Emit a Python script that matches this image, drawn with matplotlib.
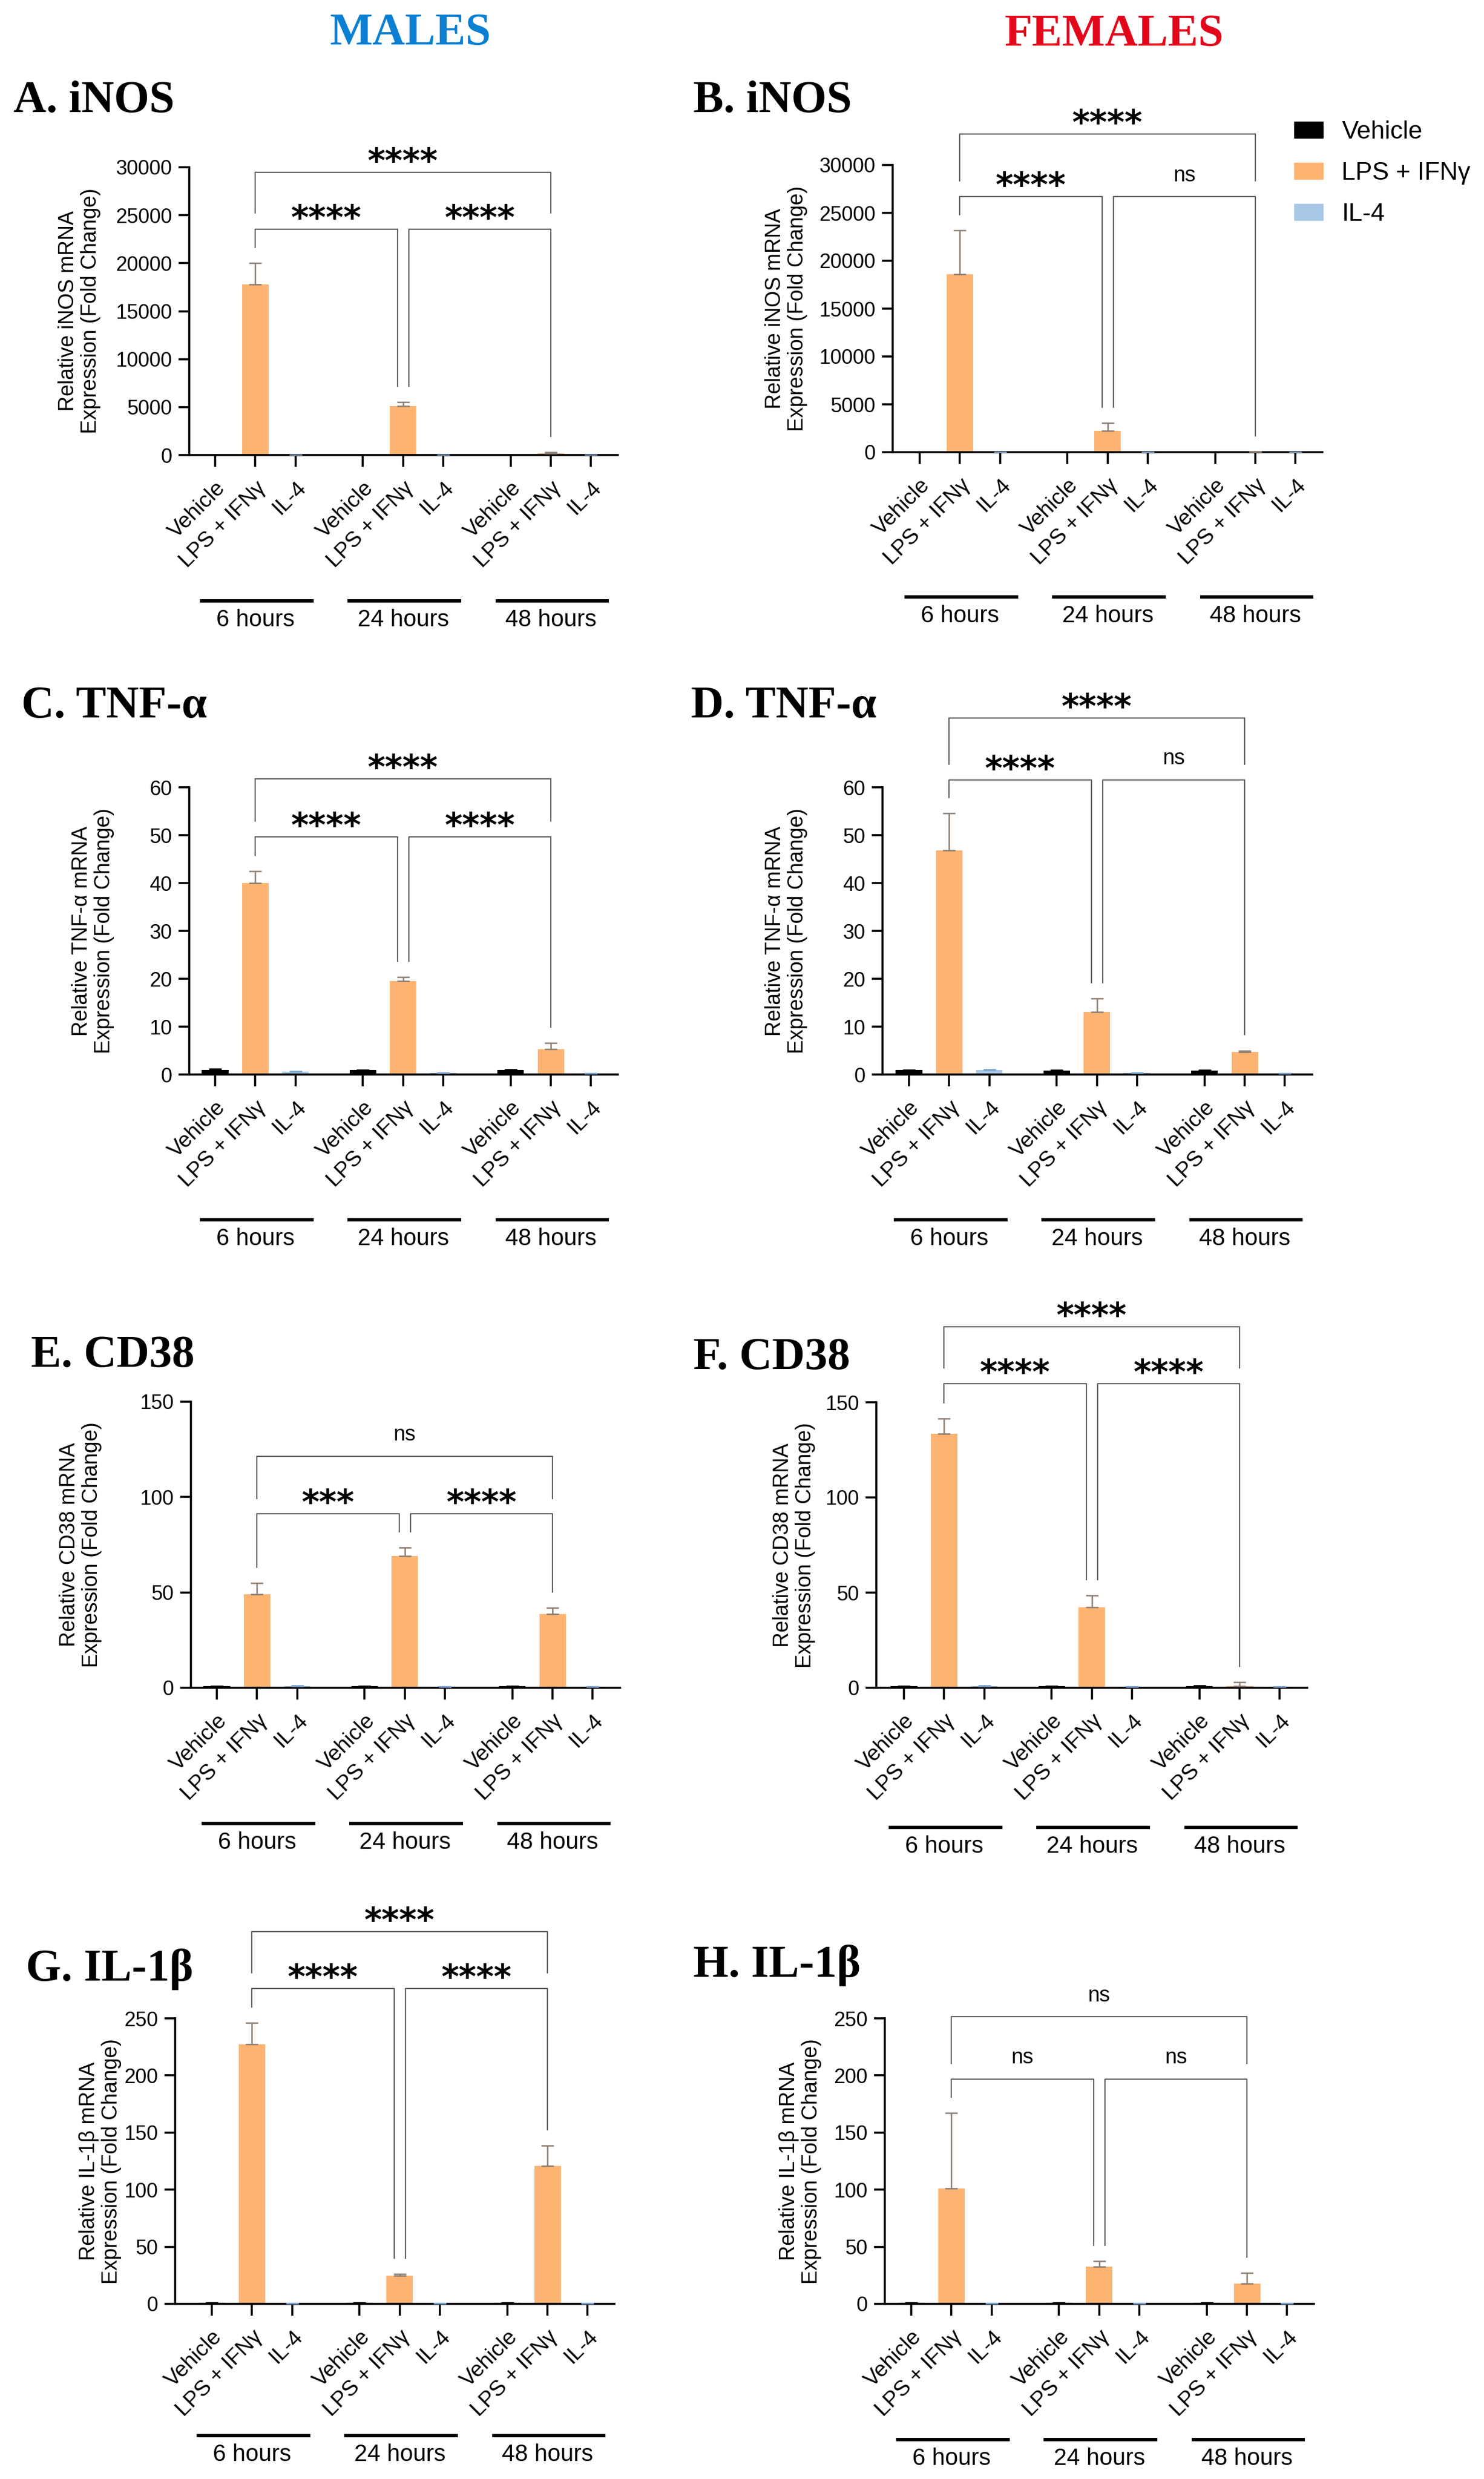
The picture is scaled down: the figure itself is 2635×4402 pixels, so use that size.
import matplotlib
matplotlib.use('Agg')
import matplotlib.pyplot as plt
from matplotlib.patches import Patch
import numpy as np

plt.rcParams['font.family'] = ['Liberation Sans', 'DejaVu Sans']

time_points = ['6 hours', '24 hours', '48 hours']
treatments = ['Vehicle', 'LPS + IFNγ', 'IL-4']

# rows: 6 h, 24 h, 48 h   columns: Vehicle, LPS + IFNγ, IL-4  (mean, sem)
inos_m = [[1.0, 17800, 0.8], [1.0, 5100, 0.6], [1.0, 200, 0.5]]
inos_m_sem = [[0.2, 2200, 0.2], [0.2, 400, 0.1], [0.2, 100, 0.1]]
inos_f = [[1.0, 18600, 0.9], [1.0, 2250, 0.6], [1.0, 60, 0.4]]
inos_f_sem = [[0.2, 4600, 0.2], [0.2, 780, 0.1], [0.2, 20, 0.1]]
tnf_m = [[1.0, 40.0, 0.6], [0.9, 19.5, 0.3], [0.9, 5.3, 0.2]]
tnf_m_sem = [[0.2, 2.5, 0.1], [0.1, 0.9, 0.05], [0.15, 1.3, 0.05]]
tnf_f = [[0.9, 46.8, 0.9], [0.8, 13.1, 0.3], [0.8, 4.7, 0.2]]
tnf_f_sem = [[0.1, 7.8, 0.2], [0.1, 2.8, 0.05], [0.1, 0.3, 0.05]]
cd38_m = [[0.8, 49.0, 1.0], [0.8, 69.1, 0.5], [0.8, 38.6, 0.6]]
cd38_m_sem = [[0.2, 5.9, 0.2], [0.1, 4.3, 0.1], [0.1, 3.3, 0.1]]
cd38_f = [[0.8, 133.3, 1.0], [0.8, 42.3, 0.6], [0.9, 1.0, 0.6]]
cd38_f_sem = [[0.1, 8.2, 0.2], [0.1, 6.3, 0.1], [0.2, 2.0, 0.1]]
il1b_m = [[0.8, 227.4, 0.5], [0.9, 24.7, 0.4], [0.9, 121.0, 0.5]]
il1b_m_sem = [[0.1, 18.6, 0.1], [0.1, 1.3, 0.1], [0.1, 17.5, 0.1]]
il1b_f = [[0.8, 101.2, 0.5], [0.8, 32.4, 0.3], [0.8, 17.9, 0.3]]
il1b_f_sem = [[0.1, 65.8, 0.1], [0.1, 5.0, 0.1], [0.1, 9.4, 0.1]]

# LPS + IFNγ comparisons: 6h vs 24h, 24h vs 48h, 6h vs 48h
sig_a = ['****', '****', '****']
sig_b = ['****', 'ns', '****']
sig_c = ['****', '****', '****']
sig_d = ['****', 'ns', '****']
sig_e = ['***', '****', 'ns']
sig_f = ['****', '****', '****']
sig_g = ['****', '****', '****']
sig_h = ['ns', 'ns', 'ns']

bar_colors = ['#000000', '#fdb471', '#a9c8e5']
err_colors = ['#000000', '#8c7c70', '#7aa4cc']
bracket_color = '#5e5e5e'

W, H = 2635, 4402
UNIT = 71.3        # px per bar slot
GROUP_STEP = 3.68  # slots between time groups
BAR_W = 0.66
LEG_SHIFT = 0.14

# letter, gene, mean, sem, sig, ymax, ystep,
# axes (left, top, right, bottom) px, first tick px, ylabel offset px,
# hours line offset px, title (x, y) px, bracket heights (inner, outer)
panels = [
    ('A', 'iNOS', inos_m, inos_m_sem, sig_a, 30000, 5000,
     (336, 297, 1097, 808), 382, -195, 259, (24, 180), (23570, 29480)),
    ('B', 'iNOS', inos_f, inos_f_sem, sig_b, 30000, 5000,
     (1585, 293, 2348, 803), 1633, -189, 257, (1231, 180), (26680, 33240)),
    ('C', 'TNF-α', tnf_m, tnf_m_sem, sig_c, 60, 10,
     (336, 1398, 1097, 1908), 382, -171, 258, (38, 1255), (49.7, 61.8)),
    ('D', 'TNF-α', tnf_f, tnf_f_sem, sig_d, 60, 10,
     (1567, 1398, 2330, 1908), 1614, -171, 258, (1227, 1255), (61.5, 74.5)),
    ('E', 'CD38', cd38_m, cd38_m_sem, sig_e, 150, 50,
     (339, 2489, 1101, 2997), 385, -196, 241, (55, 2408), (91.1, 121.5)),
    ('F', 'CD38', cd38_f, cd38_f_sem, sig_f, 150, 50,
     (1556, 2490, 2321, 2997), 1605, -146, 248, (1231, 2412), (159.8, 189.7)),
    ('G', 'IL-1β', il1b_m, il1b_m_sem, sig_g, 250, 50,
     (311, 3584, 1091, 4091), 376, -133, 234, (46, 3497), (276, 326)),
    ('H', 'IL-1β', il1b_f, il1b_f_sem, sig_h, 250, 50,
     (1571, 3584, 2333, 4091), 1618, -150, 241, (1231, 3490), (196.7, 251.3)),
]

fig = plt.figure(figsize=(W / 100, H / 100), dpi=100)

fig.text(729 / W, 1 - 60 / H, 'MALES', family='Liberation Serif', weight='bold',
         fontsize=58, color='#0b7fd2', ha='center', va='center')
fig.text(1978 / W, 1 - 62 / H, 'FEMALES', family='Liberation Serif', weight='bold',
         fontsize=58, color='#e3061b', ha='center', va='center')


def bracket(ax, x1, x2, y, leg1, leg2, label):
    ax.plot([x1, x1, x2, x2], [leg1, y, y, leg2], color=bracket_color, lw=1.6,
            clip_on=False, zorder=4)
    if label == 'ns':
        ax.annotate(label, ((x1 + x2) / 2, y), xytext=(0, 20), textcoords='offset points',
                    ha='center', va='baseline', fontsize=27, annotation_clip=False)
    else:
        ax.annotate(label, ((x1 + x2) / 2, y), xytext=(0, 0), textcoords='offset points',
                    ha='center', va='baseline', fontsize=43, weight='bold',
                    family='DejaVu Sans', annotation_clip=False)


for (letter, gene, mean, sem, sig, ymax, ystep, rect, t0, ylab_off, hours_off,
     title_xy, br) in panels:
    L, T, R, B = rect
    ax = fig.add_axes([L / W, 1 - B / H, (R - L) / W, (B - T) / H])
    ax.set_xlim((L - t0) / UNIT, (R - t0) / UNIT)
    ax.set_ylim(0, ymax)

    for i in range(3):
        xs = [g * GROUP_STEP + i for g in range(3)]
        ys = [mean[g][i] for g in range(3)]
        es = [sem[g][i] for g in range(3)]
        ax.bar(xs, ys, width=BAR_W, color=bar_colors[i], zorder=2)
        ax.errorbar(xs, ys, yerr=[[0, 0, 0], es], fmt='none', ecolor=err_colors[i],
                    elinewidth=1.8, capsize=8, capthick=1.8, zorder=3)

    # significance brackets over the LPS + IFNγ bars
    lps = [g * GROUP_STEP + 1 for g in range(3)]
    tops = [mean[g][1] + sem[g][1] for g in range(3)]
    gap = 0.055 * ymax
    yi, yo = br
    bracket(ax, lps[0], lps[1] - LEG_SHIFT, yi, tops[0] + gap, tops[1] + gap, sig[0])
    bracket(ax, lps[1] + LEG_SHIFT, lps[2], yi, tops[1] + gap, tops[2] + gap, sig[1])
    bracket(ax, lps[0], lps[2], yo, yi + gap, yi + gap, sig[2])

    ax.spines[['top', 'right']].set_visible(False)
    for s in ['left', 'bottom']:
        ax.spines[s].set_linewidth(2.6)
    ax.set_yticks(np.arange(0, ymax + ystep / 2, ystep))
    ax.tick_params(axis='y', length=14, width=2.6, labelsize=26, pad=8)
    ax.tick_params(axis='x', length=15, width=2.6, labelsize=28, pad=14)
    ticks = [g * GROUP_STEP + i for g in range(3) for i in range(3)]
    ax.set_xticks(ticks, treatments * 3, rotation=45, ha='right', va='top',
                  rotation_mode='anchor')

    ax.set_ylabel(f'Relative {gene} mRNA\nExpression (Fold Change)', fontsize=27,
                  va='center', linespacing=1.15)
    ax.yaxis.set_label_coords(ylab_off / (R - L), 0.5)

    # time group underlines
    trans = ax.get_xaxis_transform()
    hpx = B - T
    for g in range(3):
        x0 = g * GROUP_STEP
        ax.plot([x0 - 0.38, x0 + 2.45], [-hours_off / hpx] * 2, transform=trans,
                color='black', lw=4.3, clip_on=False, solid_capstyle='butt')
        ax.text(x0 + 1, -(hours_off + 34) / hpx, time_points[g], transform=trans,
                ha='center', va='center', fontsize=30)

    fig.text(title_xy[0] / W, 1 - title_xy[1] / H, f'{letter}. {gene}',
             family='Liberation Serif', weight='bold', fontsize=58,
             ha='left', va='center')

handles = [Patch(color=c) for c in bar_colors]
fig.legend(handles, treatments, loc='upper left', bbox_to_anchor=(2298 / W, 1 - 214 / H),
           frameon=False, fontsize=32, handlelength=1.15, handleheight=0.65,
           handletextpad=0.75, labelspacing=0.72, borderpad=0, borderaxespad=0)

fig.savefig('out.png', dpi=100, facecolor='white')
